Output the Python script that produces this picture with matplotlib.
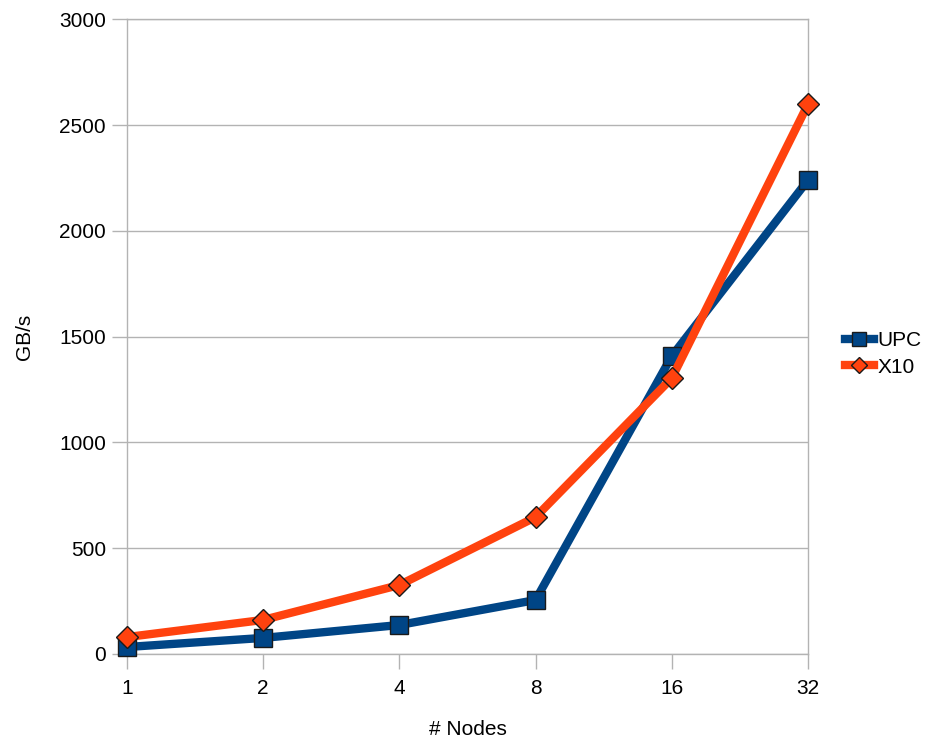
import matplotlib
matplotlib.use("Agg")
import matplotlib.pyplot as plt
from matplotlib.lines import Line2D
import numpy as np

nodes = ["1", "2", "4", "8", "16", "32"]
upc = [33, 76, 137, 255, 1408, 2240]
x10 = [80, 161, 326, 647, 1304, 2599]

UPC_COLOR = "#004586"
X10_COLOR = "#ff420e"

plt.rcParams.update({
    "font.family": ["Liberation Sans", "DejaVu Sans"],
    "font.size": 15,
})

fig = plt.figure(figsize=(9.26, 7.42), dpi=100)
ax = fig.add_axes([0.137, 0.1186, 0.7356, 0.8554])

xs = np.arange(len(nodes))
ax.plot(xs, upc, color=UPC_COLOR, linewidth=6, marker="s", markersize=13,
        markerfacecolor=UPC_COLOR, markeredgecolor="#1a1a1a", markeredgewidth=1.0,
        zorder=3, clip_on=False)
ax.plot(xs, x10, color=X10_COLOR, linewidth=6, marker="D", markersize=11,
        markerfacecolor=X10_COLOR, markeredgecolor="#1a1a1a", markeredgewidth=1.0,
        zorder=4, clip_on=False)

ax.set_xlim(0, len(nodes) - 1)
ax.set_ylim(0, 3000)
ax.set_xticks(xs)
ax.set_xticklabels(nodes)
ax.set_yticks(range(0, 3001, 500))
ax.grid(axis="y", color="#b3b3b3", linewidth=1.0)
ax.set_axisbelow(True)
for side in ["left", "right", "top", "bottom"]:
    ax.spines[side].set_color("#b3b3b3")
    ax.spines[side].set_linewidth(1.0)
ax.tick_params(axis="both", color="#b3b3b3", length=11, width=1.0, labelsize=15, pad=4)
ax.tick_params(axis="x", pad=7)

ax.set_xlabel("# Nodes", fontsize=15, labelpad=16)
ax.set_ylabel("GB/s", fontsize=15, labelpad=18)

handles = [
    Line2D([], [], color=UPC_COLOR, linewidth=6, marker="s", markersize=10,
           markerfacecolor=UPC_COLOR, markeredgecolor="#1a1a1a"),
    Line2D([], [], color=X10_COLOR, linewidth=6, marker="D", markersize=8,
           markerfacecolor=X10_COLOR, markeredgecolor="#1a1a1a"),
]
fig.legend(handles, ["UPC", "X10"], loc="center left", bbox_to_anchor=(0.912, 0.523),
           frameon=False, handlelength=1.4, handletextpad=0.2, labelspacing=0.35,
           borderaxespad=0, borderpad=0, fontsize=15)

fig.savefig("out.png", dpi=100)
